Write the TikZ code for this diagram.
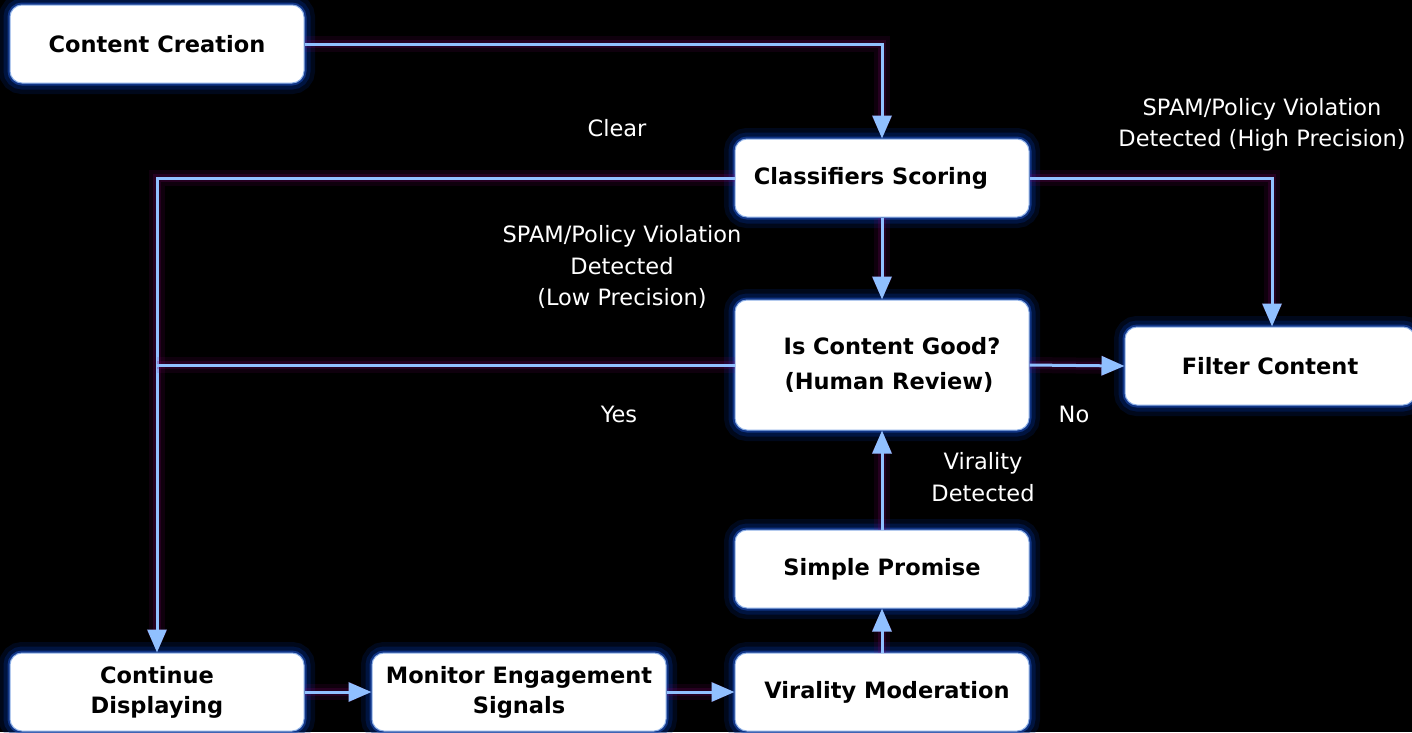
\documentclass[tikz,border=0pt]{standalone}
\usepackage{fontspec}
\setmainfont{DejaVu Sans}
\usetikzlibrary{arrows.meta}
\definecolor{linec}{RGB}{144,192,255}
\definecolor{boxedge}{RGB}{140,175,230}
\definecolor{glowA}{RGB}{0,35,110}
\definecolor{glowB}{RGB}{30,80,190}
\definecolor{glowL}{RGB}{130,0,110}
\tikzset{
  box/.style={rectangle, rounded corners=12pt, fill=white, draw=boxedge, line width=1pt,
    minimum width=294pt, minimum height=78pt, inner sep=0pt, align=center, text=black,
    font=\bfseries\fontsize{22.5}{30}\selectfont,
    preaction={draw=glowA, line width=22pt, opacity=0.25},
    preaction={draw=glowA, line width=13pt, opacity=0.45},
    preaction={draw=glowB, line width=5pt, opacity=0.55}},
  conn/.style={draw=linec, line width=3pt,
    preaction={draw=glowL, line width=16pt, opacity=0.12},
    preaction={draw=glowL, line width=8pt, opacity=0.2}},
  arr/.style={conn, -{Triangle[width=19pt,length=23pt]}},
  lbl/.style={text=white, align=center, inner sep=0pt, font=\fontsize{22.5}{31.5}\selectfont}
}
\begin{document}
\begin{tikzpicture}[x=1pt,y=-1pt]
\fill[black] (0,0) rectangle (1412,732);
\useasboundingbox (0,0) rectangle (1412,732);

\node[box] (cc) at (157,44) {Content Creation};
\node[box] (cs) at (882,178) {Classifiers Scoring\hspace*{22pt}};
\node[box, minimum height=130pt, font=\bfseries\fontsize{22.5}{35}\selectfont] (hr) at (882,365) {\hspace*{20pt}Is Content Good?\\\hspace*{14pt}(Human Review)};
\node[box, minimum width=290pt] (fc) at (1270,366) {Filter Content};
\node[box] (sp) at (882,569) {Simple Promise};
\node[box] (vm) at (882,692) {\hspace*{10pt}Virality Moderation};
\node[box] (me) at (519,692) {Monitor Engagement\\Signals};
\node[box] (cd) at (157,692) {Continue\\Displaying};

\draw[arr] (cc.east) -| (cs.north);
\draw[arr] (cs.west) -| (cd.north);
\draw[conn] (hr.west) -- (cd.north |- hr.west);
\draw[arr] (cs.east) -| ([xshift=2pt]fc.north);
\draw[arr] (cs.south) -- (hr.north);
\draw[arr] (hr.east) -- (fc.west);
\draw[arr] (sp.north) -- (hr.south);
\draw[arr] (vm.north) -- (sp.south);
\draw[arr] (cd.east) -- (me.west);
\draw[arr] (me.east) -- (vm.west);

\node[lbl] (lclear) at (617,128) {Clear};
\node[lbl] (lhigh) at (1262,125) {SPAM/Policy Violation\\Detected (High Precision)};
\node[lbl] (llow) at (622,267) {SPAM/Policy Violation\\Detected\\(Low Precision)};
\node[lbl] (lyes) at (619,414) {Yes};
\node[lbl] (lno) at (1074,414) {No};
\node[lbl] (lvir) at (983,477) {Virality\\Detected};
\end{tikzpicture}
\end{document}
